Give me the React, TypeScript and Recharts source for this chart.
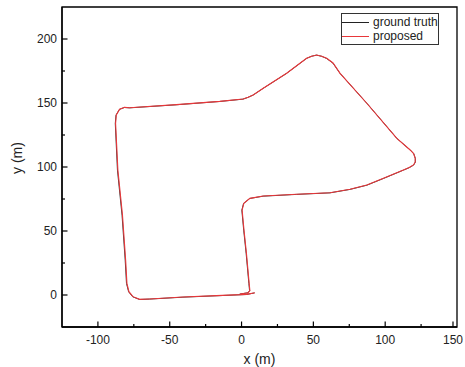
import { LineChart, Line, XAxis, YAxis, ReferenceArea, Legend, Label } from 'recharts';

// trajectory (x, y in metres)
const propX = [9.3, 3.5, -17.4, -40.7, -64.0, -70.9, -75.6, -78.4, -79.8, -80.7, -82.9, -86.1, -87.7, -87.2, -84.9, -81.4, -77.9, -45.3, -15.1, 1.1, 4.6, 8.1, 15.1, 31.4, 45.3, 48.8, 52.3, 55.8, 59.3, 63.7, 68.6, 87.2, 108.1, 117.4, 119.8, 120.9, 120.9, 119.7, 116.7, 112.7, 98.8, 87.2, 75.5, 61.6, 38.4, 15.1, 5.8, 1.6, 0.4, 1.7, 3.4, 5.3, 5.8, 4.6, -1.2];
const propY = [1.8, 0.5, -0.5, -1.6, -3.1, -3.4, -1.3, 2.6, 9.1, 27.3, 62.5, 97.7, 134.1, 140.6, 145.1, 146.6, 146.3, 148.7, 151.3, 153.1, 154.5, 156.3, 161.5, 173.2, 184.9, 186.6, 187.5, 186.6, 184.9, 181.3, 173.2, 149.8, 122.4, 113.3, 110.5, 106.8, 103.9, 101.6, 99.6, 97.7, 91.2, 85.9, 82.6, 79.9, 78.7, 77.3, 75.5, 71.6, 66.4, 50.8, 32.6, 9.1, 3.4, 1.8, 0.8];

const truthX = [9.0, 3.4, -17.5, -40.8, -64.2, -71.0, -75.8, -78.6, -80.1, -81.0, -83.2, -86.4, -87.9, -87.4, -85.0, -81.5, -78.0, -45.4, -15.2, 1.0, 4.5, 8.0, 15.0, 31.3, 45.2, 48.7, 52.2, 55.7, 59.2, 63.6, 68.6, 87.3, 108.2, 117.5, 119.9, 121.0, 121.0, 119.8, 116.8, 112.8, 98.9, 87.3, 75.6, 61.6, 38.3, 15.0, 5.7, 1.4, 0.2, 1.5, 3.2, 5.1, 5.6, 4.4, -1.3];
const truthY = [1.6, 0.4, -0.6, -1.7, -3.2, -3.5, -1.4, 2.5, 9.0, 27.2, 62.4, 97.6, 134.0, 140.5, 145.0, 146.5, 146.2, 148.6, 151.2, 153.0, 154.4, 156.2, 161.4, 173.1, 184.8, 186.5, 187.4, 186.5, 184.8, 181.2, 173.1, 149.7, 122.3, 113.2, 110.4, 106.7, 103.8, 101.5, 99.5, 97.6, 91.1, 85.8, 82.5, 79.8, 78.6, 77.2, 75.4, 71.5, 66.3, 50.7, 32.5, 9.0, 3.3, 1.7, 0.7];

const xTicks = [-100, -75, -50, -25, 0, 25, 50, 75, 100, 125, 150];
const yTicks = [0, 25, 50, 75, 100, 125, 150, 175, 200];
const xMajor = [-100, -50, 0, 50, 100, 150];
const yMajor = [0, 50, 100, 150, 200];

const seriesNames = ['ground truth', 'proposed'];
const seriesColors = ['#222222', '#e8373a'];

const proposed = propX.map((x, i) => ({ x, y: propY[i] }));
const truth = truthX.map((x, i) => ({ x, y: truthY[i] }));

const FONT = '"Liberation Sans", Arial, sans-serif';

function XTick({ x, y, payload }: any) {
  const major = xMajor.includes(payload.value);
  return (
    <g>
      <line x1={x} x2={x} y1={y} y2={y - (major ? 5.5 : 3)} stroke="#000" strokeWidth={1.2} />
      {major && (
        <text x={x} y={y + 17} textAnchor="middle" fontSize={12} fontFamily={FONT} fill="#222">
          {payload.value}
        </text>
      )}
    </g>
  );
}

function YTick({ x, y, payload }: any) {
  const major = yMajor.includes(payload.value);
  return (
    <g>
      <line x1={x} x2={x + (major ? 5.5 : 3)} y1={y} y2={y} stroke="#000" strokeWidth={1.2} />
      {major && (
        <text x={x - 5} y={y + 4} textAnchor="end" fontSize={12} fontFamily={FONT} fill="#222">
          {payload.value}
        </text>
      )}
    </g>
  );
}

function LegendBox() {
  return (
    <div
      style={{
        border: '1px solid #333',
        width: 98,
        height: 32,
        background: '#fff',
        fontFamily: FONT,
        fontSize: 12,
        color: '#222',
        lineHeight: '13.5px',
        paddingTop: 2,
        boxSizing: 'border-box',
        whiteSpace: 'nowrap',
        textAlign: 'left',
      }}
    >
      {seriesNames.map((name, i) => (
        <div key={name} style={{ display: 'flex', alignItems: 'center' }}>
          <span style={{ display: 'inline-block', width: 27, height: 0, borderTop: `1px solid ${seriesColors[i]}`, marginRight: 4 }} />
          <span>{name}</span>
        </div>
      ))}
    </div>
  );
}

export default function App() {
  return (
    <div style={{ position: 'absolute', left: 0, top: 0, background: '#fff' }}>
      <LineChart width={465} height={367} margin={{ top: 7, right: 8, left: 0, bottom: 0 }}>
        <XAxis
          type="number"
          dataKey="x"
          domain={[-125, 150]}
          ticks={xTicks}
          allowDataOverflow
          height={40}
          tickSize={0}
          tickMargin={0}
          tickLine={false}
          axisLine={{ stroke: '#000', strokeWidth: 1.3 }}
          tick={<XTick />}
        >
          <Label value="x (m)" position="insideBottom" offset={3} fontSize={14} fontFamily={FONT} fill="#222" />
        </XAxis>
        <YAxis
          type="number"
          dataKey="y"
          domain={[-25, 225]}
          ticks={yTicks}
          allowDataOverflow
          width={62}
          tickSize={0}
          tickMargin={0}
          tickLine={false}
          axisLine={{ stroke: '#000', strokeWidth: 1.3 }}
          tick={<YTick />}
        >
          <Label
            content={({ viewBox }: any) => (
              <text
                x={viewBox.x + 22}
                y={viewBox.y + viewBox.height / 2 - 9}
                transform={`rotate(-90, ${viewBox.x + 22}, ${viewBox.y + viewBox.height / 2 - 9})`}
                textAnchor="middle"
                fontSize={14}
                fontFamily={FONT}
                fill="#222"
              >
                y (m)
              </text>
            )}
          />
        </YAxis>
        <ReferenceArea x1={-125} x2={150} y1={-25} y2={225} fill="none" stroke="#000" strokeWidth={1.3} />
        <Line
          data={truth}
          dataKey="y"
          name={seriesNames[0]}
          type="linear"
          stroke={seriesColors[0]}
          strokeWidth={0.9}
          dot={false}
          isAnimationActive={false}
        />
        <Line
          data={proposed}
          dataKey="y"
          name={seriesNames[1]}
          type="linear"
          stroke={seriesColors[1]}
          strokeWidth={1.1}
          dot={false}
          isAnimationActive={false}
        />
        <Legend
          layout="vertical"
          align="center"
          verticalAlign="middle"
          content={() => <LegendBox />}
          wrapperStyle={{ position: 'absolute', left: 341, top: 13, width: 98 }}
        />
      </LineChart>
    </div>
  );
}
